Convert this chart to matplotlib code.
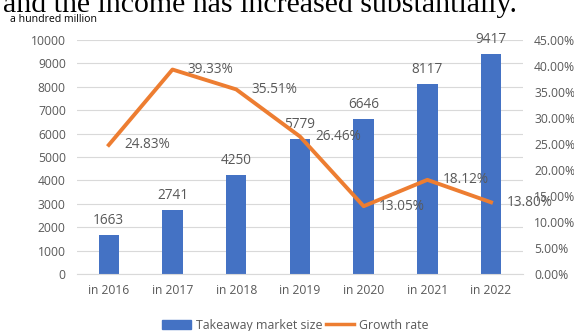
import matplotlib.pyplot as plt
import numpy as np
from matplotlib.patches import Patch
from matplotlib.lines import Line2D

# data
years = ["in 2016", "in 2017", "in 2018", "in 2019", "in 2020", "in 2021", "in 2022"]
market_size = [1663, 2741, 4250, 5779, 6646, 8117, 9417]
growth_rate = [24.83, 39.33, 35.51, 26.46, 13.05, 18.12, 13.80]

bar_color = "#4472C4"
line_color = "#ED7D31"
text_color = "#595959"

plt.rcParams['font.family'] = ['Open Sans', 'DejaVu Sans']

fig = plt.figure(figsize=(5.74, 3.31), dpi=100)
ax = fig.add_axes([0.134, 0.172, 0.777, 0.707])
ax2 = ax.twinx()

x = np.arange(len(years))

# bars
ax.bar(x, market_size, width=0.32, color=bar_color, zorder=2)
for xi, v in zip(x, market_size):
    ax.annotate(str(v), (xi, v), xytext=(0, 5), textcoords="offset points",
                ha="center", va="bottom", fontsize=9.8, color=text_color)

ax.set_xlim(-0.5, len(years) - 0.5)
ax.set_ylim(0, 10000)
ax.set_yticks(np.arange(0, 10001, 1000))
ax.set_xticks(x)
ax.set_xticklabels(years)
ax.grid(axis="y", color="#D9D9D9", linewidth=0.8, zorder=0)
ax.set_axisbelow(True)

# growth line
ax2.plot(x, growth_rate, color=line_color, linewidth=2.8, zorder=3)
for xi, v in zip(x, growth_rate):
    ax2.annotate("%.2f%%" % v, (xi, v), xytext=(11, 0), textcoords="offset points",
                 ha="left", va="center", fontsize=9.8, color=text_color)
ax2.set_ylim(0, 45)
ax2.set_yticks(np.arange(0, 46, 5))
ax2.set_yticklabels(["%.2f%%" % t for t in np.arange(0, 46, 5)])

for a in (ax, ax2):
    for s in a.spines.values():
        s.set_visible(False)
    a.tick_params(length=0, colors=text_color, labelsize=8.7)
ax.spines["bottom"].set_visible(True)
ax.spines["bottom"].set_color("#D9D9D9")
ax.tick_params(axis="y", pad=8)
ax.tick_params(axis="x", pad=7)
ax2.tick_params(axis="y", pad=8)

# legend
handles = [Patch(color=bar_color, label="Takeaway market size"),
           Line2D([0], [0], color=line_color, linewidth=2.5, label="Growth rate")]
fig.legend(handles=handles, loc="center", bbox_to_anchor=(0.515, 0.018), ncol=2,
           frameon=False, fontsize=8.9, handlelength=2.3, handleheight=0.7,
           columnspacing=0.3, handletextpad=0.4, labelcolor=text_color)

# texts at the top
fig.text(0.006, 1 - 12 / 331, "and the income has increased substantially.",
         family="Liberation Serif", fontsize=21.5, color="black", va="baseline")
fig.text(0.017, 1 - 21.5 / 331, "a hundred million", fontsize=7.6, color="black",
         va="baseline")

fig.savefig("out.png", dpi=100)
